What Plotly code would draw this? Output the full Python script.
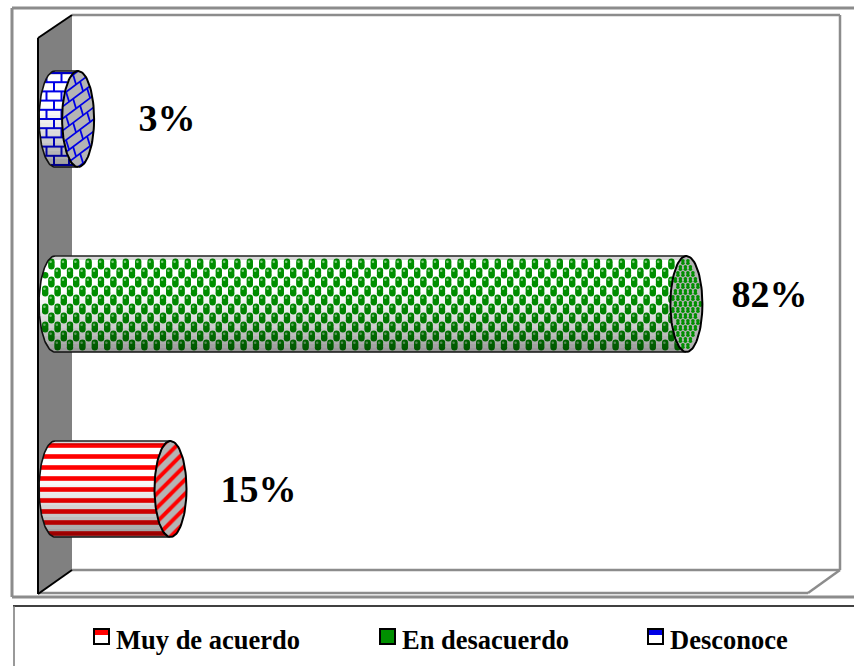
import numpy as np
import plotly.graph_objects as go

categories = ["Muy de acuerdo", "En desacuerdo", "Desconoce"]
percent_values = [15, 82, 3]
series_colors = ["#ff0000", "#008f00", "#0000e6"]
label_texts = ["15%", "82%", "3%"]

W, H = 854, 666
PX_PER_PCT = 7.7
PX_PER_CAT = 185
X0_PX, Y0_PX = 55, 489
RX, RY = 16, 48

def dx(px):
    return px / PX_PER_PCT

def dy(px):
    return px / PX_PER_CAT

def X(px):
    return (px - X0_PX) / PX_PER_PCT

def Y(py):
    return (Y0_PX - py) / PX_PER_CAT

def PXF(px):
    return px / W

def PYF(py):
    return 1 - py / H

fig = go.Figure()

def add(xs, ys, **kw):
    fig.add_trace(go.Scatter(x=xs, y=ys, hoverinfo="skip", showlegend=False, **kw))

def arc(cx, cy, a0, a1, n=60):
    t = np.radians(np.linspace(a0, a1, n))
    return cx + dx(RX) * np.cos(t), cy + dy(RY) * np.sin(t)

def body_poly(v, cy):
    lx, ly = arc(0, cy, 90, 270)
    return (list(lx) + [v, v, lx[0]], list(ly) + [cy - dy(RY), cy + dy(RY), ly[0]])

def shade_bands(v, cy, n=24):
    edges = np.linspace(1, -1, n + 1)
    for i in range(n):
        a, b = edges[i], edges[i + 1]
        mid = (a + b) / 2
        alpha = 0.42 * max(0, (0.35 - mid) / 1.35) ** 1.5 + (0.15 if mid > 0.93 else 0)
        ts = np.linspace(a, b, 4)
        xl = -dx(RX) * np.sqrt(np.clip(1 - ts ** 2, 0, 1))
        ys = cy + ts * dy(RY)
        xs = list(xl) + [v, v, xl[0]]
        yy = list(ys) + [ys[-1], ys[0], ys[0]]
        add(xs, yy, mode="lines", line=dict(width=0), fill="toself",
            fillcolor=f"rgba(0,0,0,{alpha:.3f})")

def inside_body(xs, ys, v, cy, pad=0.0):
    ty = (ys - cy) / dy(RY - pad)
    lim = np.sqrt(np.clip(1 - ty ** 2, 0, 1)) * dx(RX - pad)
    right = v - np.sqrt(np.clip(1 - ((ys - cy) / dy(RY)) ** 2, 0, 1)) * dx(RX) + dx(pad * 0.3)
    return (np.abs(ty) <= 1) & (xs >= -lim) & (xs <= right)

def inside_end(xs, ys, v, cy, pad=0.0):
    return ((xs - v) / dx(RX - pad)) ** 2 + ((ys - cy) / dy(RY - pad)) ** 2 <= 1

def clipped_segments(segs, mask_fn, n=40):
    out_x, out_y = [], []
    for (x0, y0, x1, y1) in segs:
        xs = np.linspace(x0, x1, n)
        ys = np.linspace(y0, y1, n)
        m = mask_fn(xs, ys)
        for x, y, ok in zip(xs, ys, m):
            if ok:
                out_x.append(x)
                out_y.append(y)
            elif out_x and out_x[-1] is not None:
                out_x.append(None)
                out_y.append(None)
        out_x.append(None)
        out_y.append(None)
    return out_x, out_y

def outline(v, cy):
    lx, ly = arc(0, cy, 90, 270)
    add(list(lx) + [v], list(ly) + [cy - dy(RY)], mode="lines", line=dict(color="#111", width=1.6))
    add([0, v], [cy + dy(RY), cy + dy(RY)], mode="lines", line=dict(color="#222", width=1.6))
    ex, ey = arc(v, cy, 0, 360, 90)
    add(ex, ey, mode="lines", line=dict(color="#000", width=2))

def end_base(v, cy):
    ex, ey = arc(v, cy, 0, 360, 90)
    add(ex, ey, mode="lines", line=dict(width=0), fill="toself", fillcolor="#b4b4b4")

def draw_red(v, cy, color):
    px_, py_ = body_poly(v, cy)
    add(px_, py_, mode="lines", line=dict(width=0), fill="toself", fillcolor="white",
        fillpattern=dict(shape="-", fgcolor=color, bgcolor="white", size=11, solidity=0.42,
                         fillmode="replace"))
    shade_bands(v, cy)
    end_base(v, cy)
    ex, ey = arc(v, cy, 0, 360, 90)
    add(ex, ey, mode="lines", line=dict(width=0), fill="toself", fillcolor="#b4b4b4",
        fillpattern=dict(shape="/", fgcolor=color, bgcolor="#b4b4b4", size=10, solidity=0.4,
                         fillmode="replace"))
    outline(v, cy)

def draw_green(v, cy, color):
    px_, py_ = body_poly(v, cy)
    add(px_, py_, mode="lines", line=dict(width=0), fill="toself", fillcolor="white")
    rows = np.arange(-RY - 2, RY + 3, 9)
    gx, gy = [], []
    for r, row in enumerate(rows):
        cols = np.arange(-RX, v * PX_PER_PCT + RX, 12.4) + (6.2 if r % 2 else 0)
        for c in cols:
            gx.append(dx(c))
            gy.append(cy + dy(row))
    gx, gy = np.array(gx), np.array(gy)
    for off in (-2.2, 0, 2.2):
        yy = gy + dy(off)
        m = inside_body(gx, yy, v, cy, pad=3.2)
        add(gx[m], yy[m], mode="markers",
            marker=dict(color=color, size=6.4, symbol="circle", line=dict(width=0)))
    m = inside_body(gx, gy + dy(2.2), v, cy, pad=3.2)
    add(gx[m] - dx(0.8), gy[m] + dy(2.2), mode="markers",
        marker=dict(color="#7fcf7f", size=2.5, line=dict(width=0)))
    shade_bands(v, cy)
    end_base(v, cy)
    ex_, ey_ = [], []
    for r, row in enumerate(np.arange(-RY, RY + 1, 6)):
        for c in np.arange(-RX, RX + 1, 5) + (2.5 if r % 2 else 0):
            ex_.append(v + dx(c))
            ey_.append(cy + dy(row))
    ex_, ey_ = np.array(ex_), np.array(ey_)
    m = inside_end(ex_, ey_, v, cy, pad=2)
    for off in (-1.3, 1.3):
        add(ex_[m], ey_[m] + dy(off), mode="markers",
            marker=dict(color=color, size=3.6, line=dict(width=0)))
    outline(v, cy)

def draw_blue(v, cy, color):
    px_, py_ = body_poly(v, cy)
    add(px_, py_, mode="lines", line=dict(width=0), fill="toself", fillcolor="white")
    step_h, step_v = 9.2, 15
    segs = []
    rows = np.arange(-RY + 2, RY, step_h)
    end_px = v * PX_PER_PCT
    for r, row in enumerate(rows):
        segs.append((dx(-RX), cy + dy(row), v, cy + dy(row)))
        if r < len(rows) - 1:
            for c in np.arange(-RX, end_px + RX, step_v) + (step_v / 2 if r % 2 else 0):
                segs.append((dx(c), cy + dy(row), dx(c), cy + dy(row + step_h)))
    bx, by = clipped_segments(segs, lambda a, b: inside_body(a, b, v, cy))
    add(bx, by, mode="lines", line=dict(color=color, width=2))
    shade_bands(v, cy)
    end_base(v, cy)
    segs = []
    slope = 0.75
    spacing = 12
    offs = np.arange(-84, 84, spacing)
    for i, o in enumerate(offs):
        segs.append((v + dx(-RX), cy + dy(o - slope * RX), v + dx(RX), cy + dy(o + slope * RX)))
        for c in np.arange(-RX, RX + 1, 14) + (7 if i % 2 else 0):
            segs.append((v + dx(c), cy + dy(o + slope * c),
                         v + dx(c - 3), cy + dy(o + spacing + slope * (c - 3))))
    bx, by = clipped_segments(segs, lambda a, b: inside_end(a, b, v, cy))
    add(bx, by, mode="lines", line=dict(color=color, width=1.8))
    outline(v, cy)

gray = "#8c8c8c"
shapes = []

def line(x0, y0, x1, y1, color=gray, width=2.5):
    shapes.append(dict(type="line", xref="paper", yref="paper", layer="below",
                       x0=PXF(x0), y0=PYF(y0), x1=PXF(x1), y1=PYF(y1),
                       line=dict(color=color, width=width)))

line(12, 8, 854, 8, width=3)
line(12, 8, 12, 597, width=3)
line(12, 597, 854, 597, width=3)
line(72, 15, 840, 15)
line(840, 15, 840, 570)
line(72, 570, 840, 570)
line(840, 570, 808, 593)
line(38, 593, 808, 593)
shapes.append(dict(type="path", xref="paper", yref="paper", layer="below",
                   path=f"M {PXF(38)} {PYF(38)} L {PXF(72)} {PYF(15)} L {PXF(72)} {PYF(570)} L {PXF(38)} {PYF(594)} Z",
                   fillcolor="#808080", line=dict(width=0)))
line(38, 38, 72, 15, color="black", width=2)
line(38, 38, 38, 594, color="black", width=2)
line(38, 594, 72, 570, color="black", width=2)
line(13, 606, 854, 606, color="black", width=1.5)
line(14, 606, 14, 666, color="#777", width=1.5)

draw_fns = [draw_red, draw_green, draw_blue]
for i, (v, col, fn) in enumerate(zip(percent_values, series_colors, draw_fns)):
    fn(v, i, col)

label_shift_px = [(88, -3), (83, 7), (89, -2)]
for i, (v, t) in enumerate(zip(percent_values, label_texts)):
    sx, sy = label_shift_px[i]
    add([v + dx(sx)], [i + dy(sy)], mode="text", text=[t], textposition="middle center",
        textfont=dict(family="Liberation Serif", size=38, color="black", weight="bold"))

annotations = []
swatch_x = [94, 380, 648]
text_x = [114, 400, 668]
swatch_fill = [("#ff0000", "white"), ("#008f00", "#008f00"), ("#0000e6", "white")]
for name, sx, tx, (c1, c2) in zip(categories, swatch_x, text_x, swatch_fill):
    shapes.append(dict(type="rect", xref="paper", yref="paper", layer="below",
                       x0=PXF(sx), x1=PXF(sx + 15), y0=PYF(629), y1=PYF(644),
                       fillcolor=c2, line=dict(color="black", width=2)))
    shapes.append(dict(type="rect", xref="paper", yref="paper", layer="below",
                       x0=PXF(sx + 1), x1=PXF(sx + 14), y0=PYF(630), y1=PYF(635),
                       fillcolor=c1, line=dict(width=0)))
    annotations.append(dict(xref="paper", yref="paper", x=PXF(tx), y=PYF(640),
                            text=f"<b>{name}</b>", showarrow=False, xanchor="left", yanchor="middle",
                            font=dict(family="Liberation Serif", size=26.5, color="black")))

fig.update_layout(
    width=W, height=H, margin=dict(l=0, r=0, t=0, b=0),
    paper_bgcolor="white", plot_bgcolor="rgba(0,0,0,0)",
    xaxis=dict(range=[X(0), X(W)], visible=False, fixedrange=True),
    yaxis=dict(range=[Y(H), Y(0)], visible=False, fixedrange=True),
    shapes=shapes, annotations=annotations, showlegend=False,
)
fig.write_html("out.html", config={"displayModeBar": False},
               post_script="document.body.style.margin='0';document.body.style.overflow='hidden';")
